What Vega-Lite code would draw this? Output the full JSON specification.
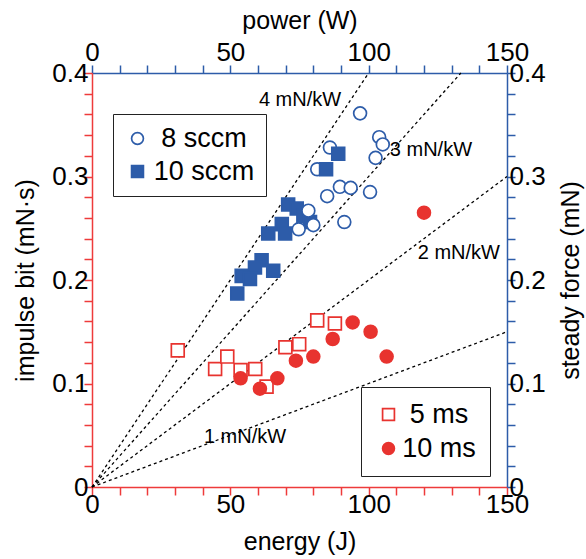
{
  "$schema": "https://vega.github.io/schema/vega-lite/v6.json",
  "width": 415,
  "height": 414,
  "autosize": {"type": "none"},
  "padding": {"left": 92, "top": 73, "right": 79, "bottom": 72},
  "background": "white",
  "config": {
    "view": {"stroke": null},
    "font": "Liberation Sans",
    "axis": {
      "grid": false,
      "labelFont": "Liberation Sans",
      "titleFont": "Liberation Sans",
      "labelFontSize": 26,
      "titleFontSize": 25,
      "titleFontWeight": "normal",
      "labelColor": "black",
      "titleColor": "black",
      "domainWidth": 1.5,
      "tickWidth": 1.5,
      "tickSize": 8,
      "labelFlush": false,
      "labelOverlap": false,
      "labelBound": false
    },
    "legend": {
      "labelFont": "Liberation Sans",
      "labelFontSize": 27,
      "labelColor": "black"
    }
  },
  "resolve": {"scale": {"x": "independent", "y": "independent"}},
  "layer": [
    {
      "encoding": {
        "x": {
          "field": "energy",
          "type": "quantitative",
          "scale": {"domain": [0, 150], "nice": false, "zero": false},
          "axis": {
            "orient": "bottom",
            "title": "energy (J)",
            "values": [0, 10, 20, 30, 40, 50, 60, 70, 80, 90, 100, 110, 120, 130, 140, 150],
            "labelExpr": "datum.value % 50 === 0 ? datum.label : ''",
            "domainColor": "#ee3b3b",
            "tickColor": "#ee3b3b",
            "labelPadding": -4,
            "titlePadding": 12,
            "encode": {"ticks": {"update": {"y2": {"value": -8}}}}
          }
        },
        "y": {
          "field": "impulse",
          "type": "quantitative",
          "scale": {"domain": [0, 0.4], "nice": false, "zero": false},
          "axis": {
            "orient": "left",
            "title": "impulse bit (mN·s)",
            "values": [0, 0.02, 0.04, 0.06, 0.08, 0.1, 0.12, 0.14, 0.16, 0.18, 0.2, 0.22, 0.24, 0.26, 0.28, 0.3, 0.32, 0.34, 0.36, 0.38, 0.4],
            "labelExpr": "abs(datum.value*10 - round(datum.value*10)) < 0.001 ? format(datum.value, '~g') : ''",
            "domainColor": "#ee3b3b",
            "tickColor": "#ee3b3b",
            "labelPadding": -4,
            "titlePadding": 13,
            "encode": {"ticks": {"update": {"x2": {"value": 8}}}}
          }
        }
      },
      "resolve": {"scale": {"shape": "independent", "fill": "independent", "stroke": "independent"}},
      "layer": [
        {
          "data": {"values": [
            {"energy": 0, "impulse": 0, "energy2": 100, "impulse2": 0.4},
            {"energy": 0, "impulse": 0, "energy2": 133.33, "impulse2": 0.4},
            {"energy": 0, "impulse": 0, "energy2": 150, "impulse2": 0.3},
            {"energy": 0, "impulse": 0, "energy2": 150, "impulse2": 0.15}
          ]},
          "mark": {"type": "rule", "color": "black", "strokeWidth": 1.3, "strokeDash": [3, 3]},
          "encoding": {
            "x2": {"field": "energy2"},
            "y2": {"field": "impulse2"}
          }
        },
        {
          "data": {"values": [
            {"label": "4 mN/kW", "energy": 75.2, "impulse": 0.374},
            {"label": "3 mN/kW", "energy": 122.5, "impulse": 0.326},
            {"label": "2 mN/kW", "energy": 132.6, "impulse": 0.226},
            {"label": "1 mN/kW", "energy": 55.3, "impulse": 0.048}
          ]},
          "mark": {"type": "text", "fontSize": 20, "font": "Liberation Sans", "align": "center", "baseline": "middle", "color": "black"},
          "encoding": {"text": {"field": "label"}}
        },
        {
          "data": {"values": [
            {"series": "8 sccm", "energy": 96.9, "impulse": 0.361},
            {"series": "8 sccm", "energy": 103.8, "impulse": 0.338},
            {"series": "8 sccm", "energy": 105.1, "impulse": 0.331},
            {"series": "8 sccm", "energy": 102.5, "impulse": 0.318},
            {"series": "8 sccm", "energy": 86.0, "impulse": 0.328},
            {"series": "8 sccm", "energy": 81.4, "impulse": 0.307},
            {"series": "8 sccm", "energy": 89.6, "impulse": 0.290},
            {"series": "8 sccm", "energy": 93.5, "impulse": 0.289},
            {"series": "8 sccm", "energy": 100.5, "impulse": 0.285},
            {"series": "8 sccm", "energy": 85.0, "impulse": 0.281},
            {"series": "8 sccm", "energy": 91.2, "impulse": 0.256},
            {"series": "10 sccm", "energy": 89.0, "impulse": 0.322},
            {"series": "10 sccm", "energy": 84.6, "impulse": 0.307},
            {"series": "10 sccm", "energy": 70.9, "impulse": 0.273},
            {"series": "10 sccm", "energy": 74.0, "impulse": 0.269},
            {"series": "10 sccm", "energy": 76.4, "impulse": 0.262},
            {"series": "10 sccm", "energy": 78.8, "impulse": 0.256},
            {"series": "10 sccm", "energy": 68.6, "impulse": 0.254},
            {"series": "10 sccm", "energy": 63.7, "impulse": 0.245},
            {"series": "10 sccm", "energy": 69.8, "impulse": 0.245},
            {"series": "10 sccm", "energy": 61.3, "impulse": 0.219},
            {"series": "10 sccm", "energy": 58.9, "impulse": 0.212},
            {"series": "10 sccm", "energy": 65.5, "impulse": 0.209},
            {"series": "10 sccm", "energy": 54.1, "impulse": 0.204},
            {"series": "10 sccm", "energy": 57.1, "impulse": 0.201},
            {"series": "10 sccm", "energy": 52.5, "impulse": 0.187},
            {"series": "8 sccm", "energy": 78.2, "impulse": 0.267},
            {"series": "8 sccm", "energy": 80.0, "impulse": 0.253},
            {"series": "8 sccm", "energy": 74.7, "impulse": 0.249}
          ]},
          "mark": {"type": "point", "strokeWidth": 1.7, "size": 165, "opacity": 1, "fillOpacity": 1, "strokeOpacity": 1},
          "encoding": {
            "shape": {
              "field": "series", "type": "nominal",
              "scale": {"domain": ["8 sccm", "10 sccm"], "range": ["circle", "square"]},
              "legend": {"orient": "none", "legendX": 21, "legendY": 41, "title": null, "strokeColor": "#222222", "fillColor": "white", "padding": 11, "symbolSize": 140, "symbolStrokeWidth": 1.7, "rowPadding": 5, "labelAlign": "center", "labelOffset": 53, "labelLimit": 0}
            },
            "fill": {
              "field": "series", "type": "nominal",
              "scale": {"domain": ["8 sccm", "10 sccm"], "range": ["white", "#2d5ca9"]},
              "legend": {"orient": "none", "legendX": 21, "legendY": 41, "title": null, "strokeColor": "#222222", "fillColor": "white", "padding": 11, "symbolSize": 140, "symbolStrokeWidth": 1.7, "rowPadding": 5, "labelAlign": "center", "labelOffset": 53, "labelLimit": 0}
            },
            "stroke": {
              "field": "series", "type": "nominal",
              "scale": {"domain": ["8 sccm", "10 sccm"], "range": ["#2d5ca9", "#2d5ca9"]},
              "legend": {"orient": "none", "legendX": 21, "legendY": 41, "title": null, "strokeColor": "#222222", "fillColor": "white", "padding": 11, "symbolSize": 140, "symbolStrokeWidth": 1.7, "rowPadding": 5, "labelAlign": "center", "labelOffset": 53, "labelLimit": 0}
            }
          }
        },
        {
          "data": {"values": [
            {"series": "5 ms", "energy": 31.0, "impulse": 0.132},
            {"series": "5 ms", "energy": 44.5, "impulse": 0.114},
            {"series": "5 ms", "energy": 48.9, "impulse": 0.126},
            {"series": "5 ms", "energy": 53.7, "impulse": 0.113},
            {"series": "5 ms", "energy": 59.0, "impulse": 0.114},
            {"series": "5 ms", "energy": 63.1, "impulse": 0.097},
            {"series": "5 ms", "energy": 69.9, "impulse": 0.135},
            {"series": "5 ms", "energy": 74.9, "impulse": 0.138},
            {"series": "5 ms", "energy": 81.4, "impulse": 0.161},
            {"series": "5 ms", "energy": 87.8, "impulse": 0.158},
            {"series": "10 ms", "energy": 53.7, "impulse": 0.105},
            {"series": "10 ms", "energy": 60.7, "impulse": 0.095},
            {"series": "10 ms", "energy": 67.0, "impulse": 0.105},
            {"series": "10 ms", "energy": 73.7, "impulse": 0.122},
            {"series": "10 ms", "energy": 80.0, "impulse": 0.126},
            {"series": "10 ms", "energy": 87.0, "impulse": 0.143},
            {"series": "10 ms", "energy": 94.2, "impulse": 0.159},
            {"series": "10 ms", "energy": 100.7, "impulse": 0.150},
            {"series": "10 ms", "energy": 106.5, "impulse": 0.126},
            {"series": "10 ms", "energy": 120.0, "impulse": 0.265}
          ]},
          "mark": {"type": "point", "strokeWidth": 1.7, "size": 165, "opacity": 1, "fillOpacity": 1, "strokeOpacity": 1},
          "encoding": {
            "shape": {
              "field": "series", "type": "nominal",
              "scale": {"domain": ["5 ms", "10 ms"], "range": ["square", "circle"]},
              "legend": {"orient": "none", "legendX": 269, "legendY": 314, "title": null, "strokeColor": "#222222", "fillColor": "white", "padding": 14, "symbolSize": 140, "symbolStrokeWidth": 1.7, "rowPadding": 6, "labelAlign": "center", "labelOffset": 37, "labelLimit": 0}
            },
            "fill": {
              "field": "series", "type": "nominal",
              "scale": {"domain": ["5 ms", "10 ms"], "range": ["white", "#e8332f"]},
              "legend": {"orient": "none", "legendX": 269, "legendY": 314, "title": null, "strokeColor": "#222222", "fillColor": "white", "padding": 14, "symbolSize": 140, "symbolStrokeWidth": 1.7, "rowPadding": 6, "labelAlign": "center", "labelOffset": 37, "labelLimit": 0}
            },
            "stroke": {
              "field": "series", "type": "nominal",
              "scale": {"domain": ["5 ms", "10 ms"], "range": ["#e8332f", "#e8332f"]},
              "legend": {"orient": "none", "legendX": 269, "legendY": 314, "title": null, "strokeColor": "#222222", "fillColor": "white", "padding": 14, "symbolSize": 140, "symbolStrokeWidth": 1.7, "rowPadding": 6, "labelAlign": "center", "labelOffset": 37, "labelLimit": 0}
            }
          }
        }
      ]
    },
    {
      "data": {"values": [{"power": 0, "force": 0}]},
      "mark": {"type": "point", "opacity": 0},
      "encoding": {
        "x": {
          "field": "power",
          "type": "quantitative",
          "scale": {"domain": [0, 150], "nice": false, "zero": false},
          "axis": {
            "orient": "top",
            "title": "power (W)",
            "values": [0, 10, 20, 30, 40, 50, 60, 70, 80, 90, 100, 110, 120, 130, 140, 150],
            "labelExpr": "datum.value % 50 === 0 ? datum.label : ''",
            "domainColor": "#2d5ca9",
            "tickColor": "#2d5ca9",
            "labelPadding": 0,
            "titlePadding": 6,
            "encode": {"ticks": {"update": {"y2": {"value": 8}}}}
          }
        },
        "y": {
          "field": "force",
          "type": "quantitative",
          "scale": {"domain": [0, 0.4], "nice": false, "zero": false},
          "axis": {
            "orient": "right",
            "title": "steady force (mN)",
            "titleAngle": 270,
            "titleBaseline": "top",
            "values": [0, 0.02, 0.04, 0.06, 0.08, 0.1, 0.12, 0.14, 0.16, 0.18, 0.2, 0.22, 0.24, 0.26, 0.28, 0.3, 0.32, 0.34, 0.36, 0.38, 0.4],
            "labelExpr": "abs(datum.value*10 - round(datum.value*10)) < 0.001 ? format(datum.value, '~g') : ''",
            "domainColor": "#2d5ca9",
            "tickColor": "#2d5ca9",
            "labelPadding": -6,
            "titlePadding": 13,
            "encode": {"ticks": {"update": {"x2": {"value": -8}}}}
          }
        }
      }
    }
  ]
}
